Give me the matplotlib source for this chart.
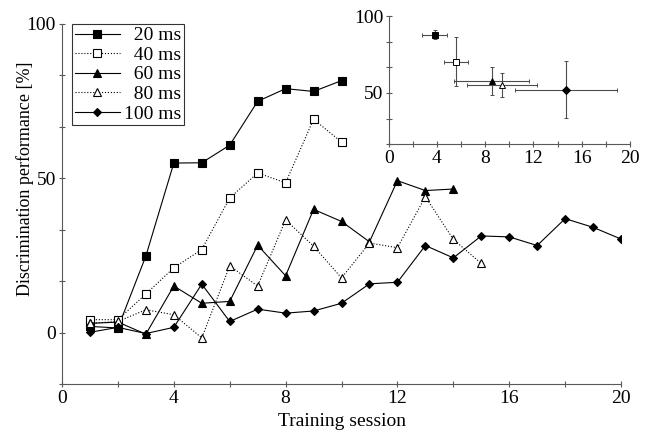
import numpy as np
from matplotlib import pyplot as plt

plt.rcParams['font.family'] = ['Liberation Serif', 'DejaVu Serif']
plt.rcParams['font.size'] = 14

# main panel: discrimination performance per training session
sessions_20 = [1, 2, 3, 4, 5, 6, 7, 8, 9, 10]
perf_20 = [2.0, 1.5, 24.8, 54.9, 55.0, 60.7, 74.9, 79.0, 78.1, 81.6]
sessions_40 = [1, 2, 3, 4, 5, 6, 7, 8, 9, 10]
perf_40 = [4.2, 4.2, 12.5, 21.0, 26.9, 43.6, 51.7, 48.5, 69.1, 61.7]
sessions_60 = [1, 2, 3, 4, 5, 6, 7, 8, 9, 10, 11, 12, 13, 14]
perf_60 = [3.0, 3.4, -0.5, 15.1, 9.5, 10.1, 28.3, 18.4, 39.9, 36.0, 29.4, 49.2, 46.0, 46.5]
sessions_80 = [1, 2, 3, 4, 5, 6, 7, 8, 9, 10, 11, 12, 13, 14, 15]
perf_80 = [3.0, 3.6, 7.4, 5.8, -1.7, 21.6, 15.1, 36.5, 28.0, 17.7, 29.0, 27.5, 44.0, 30.2, 22.4]
sessions_100 = list(range(1, 21))
perf_100 = [0.1, 1.7, -0.3, 1.7, 15.7, 3.6, 7.6, 6.3, 7.0, 9.5,
            15.8, 16.3, 28.2, 24.2, 31.3, 31.0, 28.2, 36.9, 34.1, 30.3]
labels = ['  20 ms', '  40 ms', '  60 ms', '  80 ms', '100 ms']

# inset: sessions needed vs performance, with errors
inset_x = [3.8, 5.55, 8.55, 9.4, 14.7]
inset_xerr = [1.0, 1.0, 3.1, 2.9, 4.2]
inset_y = [87.8, 70.3, 57.7, 55.1, 52.1]
inset_yerr = [3.0, 16.0, 9.0, 7.8, 18.7]

styles = [('s', 'k', '-'), ('s', 'w', ':'), ('^', 'k', '-'), ('^', 'w', ':'), ('D', 'k', '-')]
sizes = [5.5, 5.5, 6, 6, 4.5]

fig = plt.figure(figsize=(6.5, 4.33), dpi=100)
ax = fig.add_axes([0.0954, 0.113, 0.86, 0.832])

data = [(sessions_20, perf_20), (sessions_40, perf_40), (sessions_60, perf_60),
        (sessions_80, perf_80), (sessions_100, perf_100)]
for (xs, ys), (m, fc, ls), ms, lab in zip(data, styles, sizes, labels):
    ax.plot(xs, ys, ls=ls, color='k', lw=0.8, marker=m, mfc=fc, mec='k',
            mew=0.8, ms=ms, label=lab)

ax.set_xlim(0, 20)
ax.set_ylim(-100/6, 100)
ax.set_xticks([0, 4, 8, 12, 16, 20])
ax.set_xticks(np.arange(0, 21, 2), minor=True)
ax.set_yticks([0, 50, 100])
ax.set_yticks(np.arange(-100/6, 101, 100/6), minor=True)
for s in ['top', 'right']:
    ax.spines[s].set_visible(False)
for s in ['left', 'bottom']:
    ax.spines[s].set_linewidth(0.8)
    ax.spines[s].set_color('0.35')
ax.tick_params(which='both', direction='inout', length=5, width=0.8, color='0.35')
ax.tick_params(which='major', labelsize=14, pad=2)
ax.set_xlabel('Training session', fontsize=14, labelpad=4)
ax.set_ylabel('Discrimination performance [%]', fontsize=13)
ax.yaxis.set_label_coords(-0.05, 0.57)

leg = ax.legend(loc='upper left', bbox_to_anchor=(0.018, 1.0), fontsize=14,
                frameon=True, fancybox=False, edgecolor='k', handlelength=2.3,
                handletextpad=0.2, borderpad=0.15, labelspacing=0.1,
                borderaxespad=0.0)
leg.get_frame().set_linewidth(0.8)

# inset
ins = fig.add_axes([0.598, 0.667, 0.371, 0.296])
for x, y, xe, ye, (m, fc, ls) in zip(inset_x, inset_y, inset_xerr, inset_yerr, styles):
    ins.errorbar(x, y, xerr=xe, yerr=ye, fmt=m, mfc=fc, mec='k', mew=0.7,
                 ms=4.5, ecolor='0.3', elinewidth=0.8, capsize=1.5, capthick=0.8)
ins.set_xlim(0, 20)
ins.set_ylim(100/6, 100)
ins.set_xticks([0, 4, 8, 12, 16, 20])
ins.set_xticks(np.arange(0, 21, 2), minor=True)
ins.set_yticks([50, 100])
ins.set_yticks(np.arange(100/6, 101, 100/6), minor=True)
for s in ['top', 'right']:
    ins.spines[s].set_visible(False)
for s in ['left', 'bottom']:
    ins.spines[s].set_linewidth(0.8)
    ins.spines[s].set_color('0.35')
ins.tick_params(which='both', direction='inout', length=4, width=0.8, color='0.35')
ins.tick_params(which='major', labelsize=14, pad=2)

fig.savefig('out.png', dpi=100)
